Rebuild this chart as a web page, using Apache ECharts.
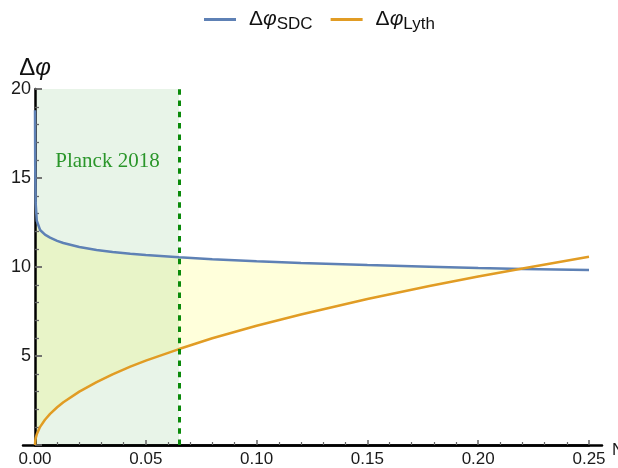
<!DOCTYPE html>
<html>
<head>
<meta charset="utf-8">
<script src="https://cdn.jsdelivr.net/npm/echarts@6/dist/echarts.min.js"></script>
<style>html,body{margin:0;padding:0;background:#fff}#c{width:618px;height:468px}</style>
</head>
<body>
<div id="c"></div>
<script>
// r values (x) shared by both curves
const rValues = [0, 0.0001, 0.0003, 0.0008, 0.0023, 0.0045, 0.0068, 0.01, 0.0128, 0.02, 0.0278, 0.035, 0.043, 0.05, 0.065, 0.08, 0.1, 0.12, 0.15, 0.178, 0.2, 0.22, 0.25];
const sdcValues = [18.8, 15.6, 13.6, 12.6, 12.08, 11.82, 11.65, 11.47, 11.35, 11.12, 10.96, 10.84, 10.74, 10.67, 10.55, 10.44, 10.32, 10.22, 10.11, 10.02, 9.95, 9.89, 9.83];
const lythValues = [0, 0.21, 0.37, 0.6, 1.02, 1.42, 1.75, 2.12, 2.4, 3.0, 3.53, 3.97, 4.4, 4.74, 5.39, 6.0, 6.7, 7.33, 8.2, 8.93, 9.47, 9.92, 10.58];
const planckR = 0.065;
const planckBand = [[0, 20], [planckR, 20]];
const planckLabelPos = [0.0327, 15.9];
const seriesNames = ['SDC', 'Lyth'];
const xAxisName = 'N';
const xNameAnchor = [1, 0];

const sdcData = rValues.map((r, i) => [r, sdcValues[i]]);
const lythData = rValues.map((r, i) => [r, lythValues[i]]);

const chart = echarts.init(document.getElementById('c'), null, {renderer: 'canvas'});
const font = 'Liberation Sans, Arial, sans-serif';
chart.setOption({
  animation: false,
  legend: {
    data: seriesNames,
    top: 4,
    left: 199,
    icon: 'rect',
    itemWidth: 32,
    itemHeight: 3,
    itemGap: 18,
    formatter: n => '{g|}{d|Δ}{p|φ}{s|' + n + '}',
    textStyle: {
      rich: {
        g: {width: 8},
        d: {fontSize: 21, fontFamily: font, color: '#111', lineHeight: 26},
        p: {fontSize: 21, fontFamily: font, fontStyle: 'italic', color: '#111', lineHeight: 26},
        s: {fontSize: 17, fontFamily: font, color: '#111', lineHeight: 15, verticalAlign: 'bottom'}
      }
    }
  },
  grid: [
    {left: 35, right: 29, top: 89, bottom: 23},
    {left: 23, right: 16, top: 89, bottom: 23}
  ],
  xAxis: [
    {
      type: 'value', gridIndex: 0, min: 0, max: 0.25, interval: 0.05, z: 2,
      axisLine: {show: true, onZero: true, lineStyle: {color: '#000', width: 2.5}},
      axisTick: {show: true, inside: true, length: 5, lineStyle: {color: '#666', width: 1.5}},
      minorTick: {show: true, splitNumber: 5, length: 3, lineStyle: {color: '#666', width: 1.2}},
      splitLine: {show: false},
      axisLabel: {margin: 6, fontSize: 17, fontFamily: font, color: '#1a1a1a', formatter: v => v.toFixed(2)}
    },
    {
      type: 'value', gridIndex: 1, min: 0, max: 1, z: 2,
      axisLine: {show: true, onZero: false, lineStyle: {color: '#000', width: 2.5}},
      axisTick: {show: false}, axisLabel: {show: false}, splitLine: {show: false}
    }
  ],
  yAxis: [
    {
      type: 'value', gridIndex: 0, min: 0, max: 20, interval: 5, z: 2,
      axisLine: {show: true, onZero: true, lineStyle: {color: '#000', width: 2.5}},
      axisTick: {show: true, inside: true, length: 7, lineStyle: {color: '#666', width: 1.8}},
      minorTick: {show: true, splitNumber: 5, length: 4, lineStyle: {color: '#666', width: 1.3}},
      splitLine: {show: false},
      axisLabel: {margin: 4, fontSize: 18, fontFamily: font, color: '#1a1a1a', formatter: v => v === 0 ? '' : String(v)},
      name: '{a|Δ}{b|φ}', nameLocation: 'end', nameGap: 9,
      nameTextStyle: {
        rich: {
          a: {fontSize: 24, fontFamily: font, color: '#111'},
          b: {fontSize: 24, fontFamily: font, fontStyle: 'italic', color: '#111'}
        }
      }
    },
    {type: 'value', gridIndex: 1, min: 0, max: 1, show: false}
  ],
  series: [
    {
      name: 'fillSDC', type: 'line', xAxisIndex: 0, yAxisIndex: 0, data: sdcData, z: 1,
      symbol: 'none', silent: true, lineStyle: {width: 0, opacity: 0},
      areaStyle: {color: 'rgba(255,255,0,0.14)', opacity: 1}
    },
    {
      name: 'coverLyth', type: 'line', xAxisIndex: 0, yAxisIndex: 0, data: lythData, z: 1,
      symbol: 'none', silent: true, lineStyle: {width: 0, opacity: 0},
      areaStyle: {color: '#ffffff', opacity: 1}
    },
    {
      name: 'planck', type: 'line', xAxisIndex: 0, yAxisIndex: 0, data: planckBand, z: 1,
      symbol: 'none', silent: true, lineStyle: {width: 0, opacity: 0},
      areaStyle: {color: 'rgba(0,128,0,0.09)', opacity: 1},
      markLine: {
        silent: true, symbol: ['none', 'none'], animation: false, precision: 5,
        label: {show: false},
        lineStyle: {color: '#0a8a0a', width: 3, type: [5.5, 5.8]},
        data: [{xAxis: planckR}]
      },
      markPoint: {
        silent: true, symbol: 'rect', symbolSize: 1,
        itemStyle: {color: 'rgba(0,0,0,0)'},
        label: {show: true, position: 'inside', formatter: 'Planck 2018', fontSize: 21,
          fontFamily: 'Liberation Serif, DejaVu Serif, serif', color: '#2a962a'},
        data: [{coord: planckLabelPos}]
      }
    },
    {
      name: 'axisName', type: 'line', xAxisIndex: 1, yAxisIndex: 1, data: [xNameAnchor], z: 3,
      symbol: 'none', silent: true, lineStyle: {width: 0, opacity: 0},
      markPoint: {
        silent: true, symbol: 'rect', symbolSize: 1,
        itemStyle: {color: 'rgba(0,0,0,0)'},
        label: {show: true, position: 'inside', align: 'left', verticalAlign: 'middle', offset: [10, 5],
          formatter: xAxisName, fontSize: 17, fontFamily: font, color: '#1a1a1a'},
        data: [{coord: xNameAnchor}]
      }
    },
    {
      name: 'SDC', type: 'line', xAxisIndex: 0, yAxisIndex: 0, data: sdcData, z: 3,
      symbol: 'none', color: '#5e81b5', lineStyle: {width: 2.5, color: '#5e81b5'}
    },
    {
      name: 'Lyth', type: 'line', xAxisIndex: 0, yAxisIndex: 0, data: lythData, z: 3,
      symbol: 'none', color: '#e19c24', lineStyle: {width: 2.5, color: '#e19c24'}
    }
  ]
});
</script>
</body>
</html>
